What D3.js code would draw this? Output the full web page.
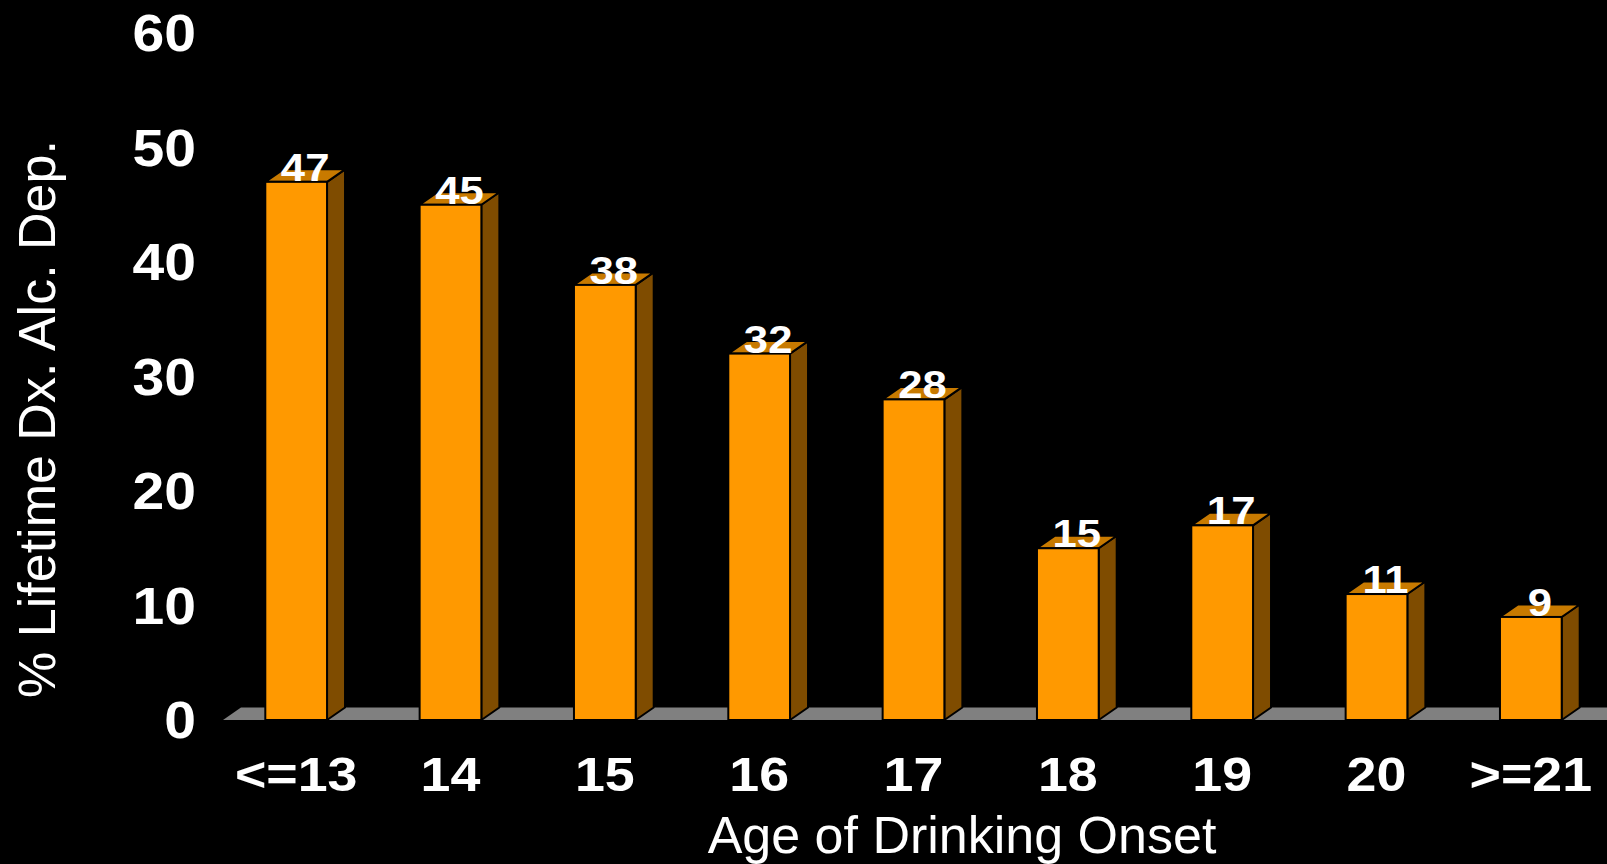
<!DOCTYPE html>
<html>
<head>
<meta charset="utf-8">
<script src="https://cdn.jsdelivr.net/npm/d3@7"></script>
<style>
  html, body { margin: 0; padding: 0; background: #000; }
  svg { display: block; }
</style>
</head>
<body>
<div id="chart"></div>
<script>
// data
const categories = ['<=13', '14', '15', '16', '17', '18', '19', '20', '>=21'];
const values = [47, 45, 38, 32, 28, 15, 17, 11, 9];
const yTicks = [0, 10, 20, 30, 40, 50, 60];
const xTitle = 'Age of Drinking Onset';
const yTitle = '% Lifetime Dx. Alc. Dep.';

const width = 1607, height = 864;
const depth = { dx: 18, dy: -12.5 };
const stretch = 1.12; // bold labels in the source look horizontally widened

const svg = d3.select('#chart').append('svg')
    .attr('width', width).attr('height', height)
    .style('background', '#000');

const xScale = d3.scaleBand()
    .domain(categories)
    .range([219, 1608])
    .paddingInner(0.6).paddingOuter(0.3);

const yScale = d3.scaleLinear()
    .domain([0, 60])
    .range([720, 33]);

const y0 = yScale(0);

// floor
const floorLeft = 223, floorRight = 1640;
svg.append('path')
    .attr('d', `M${floorLeft},${y0} L${floorLeft + depth.dx},${y0 + depth.dy} L${floorRight},${y0 + depth.dy} L${floorRight},${y0} Z`)
    .attr('fill', '#808080');

// y tick labels
svg.append('g').selectAll('text').data(yTicks)
    .join('text')
    .attr('transform', (d) => `translate(196,${yScale(d)}) scale(${stretch},1)`)
    .attr('dy', '0.36em')
    .attr('text-anchor', 'end')
    .attr('fill', '#fff')
    .attr('font-family', 'Liberation Sans, Arial, sans-serif')
    .attr('font-weight', 'bold')
    .attr('font-size', 51)
    .text((d) => d);

// bars
const rows = categories.map((c, i) => ({ key: c, value: values[i] }));
const bw = xScale.bandwidth();

const bars = svg.append('g').selectAll('g').data(rows).join('g');

bars.append('path') // side
    .attr('d', (d) => {
        const x1 = xScale(d.key) + bw, yt = yScale(d.value);
        return `M${x1},${yt} L${x1 + depth.dx},${yt + depth.dy} L${x1 + depth.dx},${y0 + depth.dy} L${x1},${y0} Z`;
    })
    .attr('fill', '#7F4C00').attr('stroke', '#000').attr('stroke-width', 2).attr('stroke-linejoin', 'round');

bars.append('path') // top
    .attr('d', (d) => {
        const x0 = xScale(d.key), yt = yScale(d.value);
        return `M${x0},${yt} L${x0 + depth.dx},${yt + depth.dy} L${x0 + bw + depth.dx},${yt + depth.dy} L${x0 + bw},${yt} Z`;
    })
    .attr('fill', '#C87A00').attr('stroke', '#000').attr('stroke-width', 2).attr('stroke-linejoin', 'round');

bars.append('rect') // front
    .attr('x', (d) => xScale(d.key))
    .attr('y', (d) => yScale(d.value))
    .attr('width', bw)
    .attr('height', (d) => y0 - yScale(d.value))
    .attr('fill', '#FF9900').attr('stroke', '#000').attr('stroke-width', 2);

// value labels
bars.append('text')
    .attr('transform', (d) => `translate(${xScale(d.key) + bw / 2 + depth.dx / 2},${yScale(d.value) - 1}) scale(${stretch + 0.03},1)`)
    .attr('text-anchor', 'middle')
    .attr('fill', '#fff')
    .attr('font-family', 'Liberation Sans, Arial, sans-serif')
    .attr('font-weight', 'bold')
    .attr('font-size', 38)
    .text((d) => d.value);

// category labels
svg.append('g').selectAll('text').data(categories)
    .join('text')
    .attr('transform', (d) => `translate(${xScale(d) + bw / 2},791) scale(${stretch},1)`)
    .attr('text-anchor', 'middle')
    .attr('fill', '#fff')
    .attr('font-family', 'Liberation Sans, Arial, sans-serif')
    .attr('font-weight', 'bold')
    .attr('font-size', 48)
    .text((d) => d);

// axis titles
svg.append('text')
    .attr('x', 962).attr('y', 853)
    .attr('text-anchor', 'middle')
    .attr('fill', '#fff')
    .attr('font-family', 'Liberation Sans, Arial, sans-serif')
    .attr('font-size', 52)
    .text(xTitle);

svg.append('text')
    .attr('transform', 'translate(55,419) rotate(-90)')
    .attr('text-anchor', 'middle')
    .attr('fill', '#fff')
    .attr('font-family', 'Liberation Sans, Arial, sans-serif')
    .attr('font-size', 52)
    .text(yTitle);
</script>
</body>
</html>
